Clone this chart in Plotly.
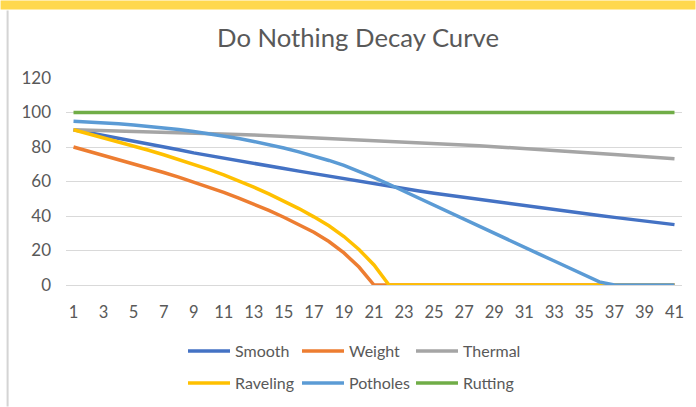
import plotly.graph_objects as go

years = list(range(1, 42))
tick_labels = [str(v) for v in range(1, 42, 2)]

smooth = [90, 88.4, 86.8, 85.2, 83.6, 82.0, 80.2, 78.4, 76.6, 75.0,
          73.5, 72.0, 70.5, 69.0, 67.5, 66.0, 64.5, 63.0, 61.5, 60.0,
          58.6, 57.2, 55.8, 54.5, 53.2, 52.0, 50.7, 49.4, 48.2, 47.0,
          45.8, 44.7, 43.6, 42.5, 41.4, 40.3, 39.2, 38.1, 37.1, 36.0, 35.0]
weight = [80, 77.6, 75.2, 72.8, 70.3, 67.8, 65.2, 62.5, 59.7, 56.8,
          53.7, 50.4, 46.9, 43.2, 39.3, 35.2, 30.6, 25.2, 18.6, 10.4,
          0, 0, 0, 0, 0, 0, 0, 0, 0, 0,
          0, 0, 0, 0, 0, 0, 0, 0, 0, 0, 0]
thermal = [90, 89.8, 89.6, 89.4, 89.2, 88.9, 88.7, 88.4, 88.2, 87.9,
           87.6, 87.3, 87.0, 86.6, 86.3, 85.9, 85.6, 85.2, 84.8, 84.4,
           84.0, 83.5, 83.1, 82.7, 82.2, 81.7, 81.2, 80.7, 80.2, 79.7,
           79.2, 78.6, 78.1, 77.5, 76.9, 76.3, 75.7, 75.1, 74.5, 73.9, 73.2]
raveling = [90, 87.7, 85.4, 83.0, 80.6, 78.1, 75.5, 72.8, 70.0, 67.0,
            63.8, 60.4, 56.7, 52.8, 48.7, 44.3, 39.5, 34.3, 28.1, 20.6,
            11.6, 0, 0, 0, 0, 0, 0, 0, 0, 0,
            0, 0, 0, 0, 0, 0, 0, 0, 0, 0, 0]
potholes = [95, 94.6, 94.1, 93.5, 92.8, 92.0, 91.1, 90.1, 89.0, 87.8,
            86.4, 84.9, 83.2, 81.4, 79.4, 77.2, 74.8, 72.2, 69.4, 66.0,
            62.3, 58.4, 54.3, 50.2, 46.2, 42.1, 38.1, 34.1, 30.0, 26.0,
            21.9, 17.9, 13.9, 9.8, 5.8, 1.8, 0, 0, 0, 0, 0]
rutting = [100] * 41

series = [
    ("Smooth", smooth, "#4472C4", "legend"),
    ("Weight", weight, "#ED7D31", "legend"),
    ("Thermal", thermal, "#A5A5A5", "legend"),
    ("Raveling", raveling, "#FFC000", "legend2"),
    ("Potholes", potholes, "#5B9BD5", "legend2"),
    ("Rutting", rutting, "#70AD47", "legend2"),
]

FONT = "Lato, 'Open Sans', sans-serif"
TXT = "#595959"

fig = go.Figure()
for name, vals, color, lg in series:
    fig.add_trace(go.Scatter(x=years, y=vals, name=name, mode="lines",
                             line=dict(color=color, width=3.5),
                             legend=lg))

W, H = 696, 407
L, R, T, B = 65.5, 682.5, 77.7, 285.2

def px(x):
    return (x - L) / (R - L)

def py(y):
    return (B - y) / (B - T)

legend_common = dict(orientation="h", xref="container", yref="container",
                     xanchor="left", yanchor="middle",
                     font=dict(family=FONT, size=16, color=TXT),
                     bgcolor="rgba(0,0,0,0)", itemwidth=42,
                     entrywidth=57, entrywidthmode="pixels",
                     traceorder="normal")

fig.update_layout(
    width=W, height=H, autosize=False,
    paper_bgcolor="white", plot_bgcolor="white",
    margin=dict(l=L, r=W - R, t=T, b=H - B, pad=0, autoexpand=False),
    title=dict(text="Do Nothing Decay Curve", x=358 / W, xanchor="center",
               y=1 - 38 / H, yanchor="middle",
               font=dict(family=FONT, size=25.7, color=TXT)),
    xaxis=dict(range=[0.5, 41.5], tickmode="array", tickvals=years[::2],
               ticktext=tick_labels, showgrid=False, zeroline=False,
               showline=False, ticks="", ticklabelstandoff=15,
               tickfont=dict(family=FONT, size=16.5, color=TXT)),
    yaxis=dict(range=[0, 120], dtick=20, tick0=0, showgrid=True,
               gridcolor="#D9D9D9", gridwidth=1, zeroline=True,
               zerolinecolor="#D9D9D9", zerolinewidth=1, showline=False,
               ticks="", ticklabelstandoff=14,
               tickfont=dict(family=FONT, size=17, color=TXT)),
    legend=dict(x=183 / W, y=1 - 351 / H, **legend_common),
    legend2=dict(x=183 / W, y=1 - 383 / H, **legend_common),
    showlegend=True,
    shapes=[
        dict(type="rect", xref="paper", yref="paper",
             x0=px(0), x1=px(W), y0=py(9), y1=py(0),
             fillcolor="#FFD84D", line=dict(width=0), layer="above"),
        dict(type="line", xref="paper", yref="paper",
             x0=px(7), x1=px(7), y0=py(10), y1=py(H),
             line=dict(color="#D4D4D4", width=2), layer="above"),
    ],
)

fig.write_html("out.html", config={"displayModeBar": False},
               post_script="document.body.style.margin='0';document.body.style.padding='0';")
